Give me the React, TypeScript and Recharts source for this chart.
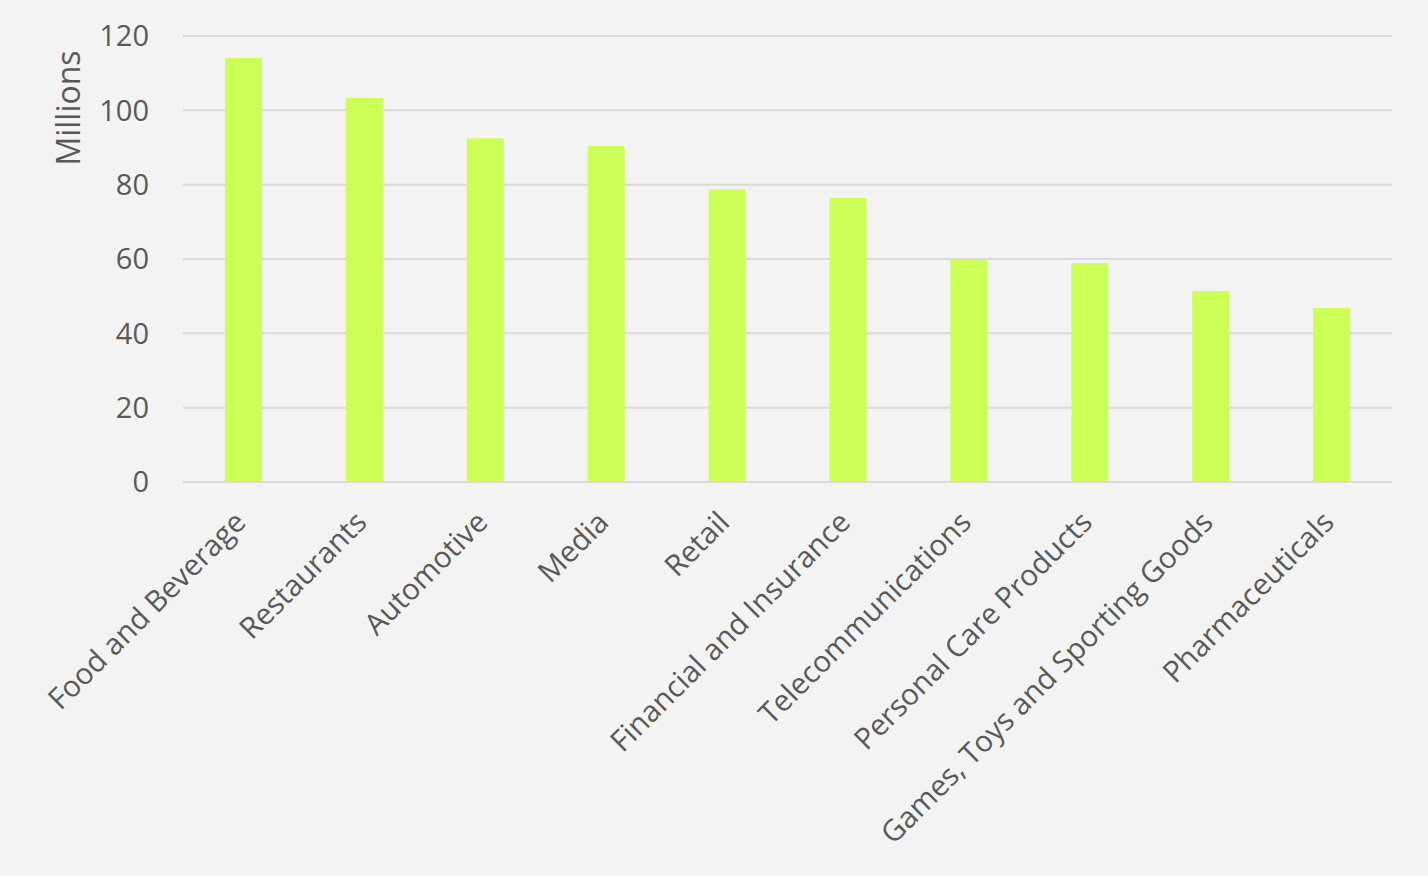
import { Bar, BarChart, CartesianGrid, XAxis, YAxis } from "recharts";

const categories = [
  "Food and Beverage",
  "Restaurants",
  "Automotive",
  "Media",
  "Retail",
  "Financial and Insurance",
  "Telecommunications",
  "Personal Care Products",
  "Games, Toys and Sporting Goods",
  "Pharmaceuticals",
];
const values = [114.1, 103.3, 92.5, 90.4, 78.8, 76.4, 59.7, 58.9, 51.4, 46.8];
const yTicks = [0, 20, 40, 60, 80, 100, 120];

const data = categories.map((name, i) => ({ name, value: values[i] }));

const font = "'Open Sans', 'DejaVu Sans', sans-serif";
const textColor = "#595959";

function XTick(props: any) {
  const { x, y, payload } = props;
  const tx = x - 4;
  return (
    <text
      x={tx}
      y={y}
      transform={`rotate(-45, ${tx}, ${y})`}
      textAnchor="end"
      dominantBaseline="central"
      fill={textColor}
      fontSize={29.5}
      fontFamily={font}
    >
      {payload.value}
    </text>
  );
}

function YTitle() {
  return (
    <text
      x={67}
      y={108}
      transform="rotate(-90, 67, 108)"
      textAnchor="middle"
      dominantBaseline="central"
      fill={textColor}
      fontSize={32}
      fontFamily={font}
    >
      Millions
    </text>
  );
}

export default function App() {
  return (
    <div style={{ position: "absolute", left: 0, top: 0, width: 1428, height: 876, background: "#f3f3f3" }}>
      <BarChart
        width={1428}
        height={876}
        data={data}
        margin={{ top: 36, right: 36, bottom: 0, left: 0 }}
        barCategoryGap={0}
      >
        <CartesianGrid vertical={false} stroke="#d9d9d9" strokeWidth={2} />
        <XAxis
          dataKey="name"
          interval={0}
          height={394}
          tickLine={false}
          axisLine={{ stroke: "#d9d9d9", strokeWidth: 2 }}
          tick={<XTick />}
          tickMargin={28}
        />
        <YAxis
          width={183}
          domain={[0, 120]}
          ticks={yTicks}
          axisLine={false}
          tickLine={false}
          tickMargin={28}
          tick={{ fill: textColor, fontSize: 29, fontFamily: font }}
          label={<YTitle />}
        />
        <Bar dataKey="value" fill="#ccff55" barSize={37} isAnimationActive={false} />
      </BarChart>
    </div>
  );
}
